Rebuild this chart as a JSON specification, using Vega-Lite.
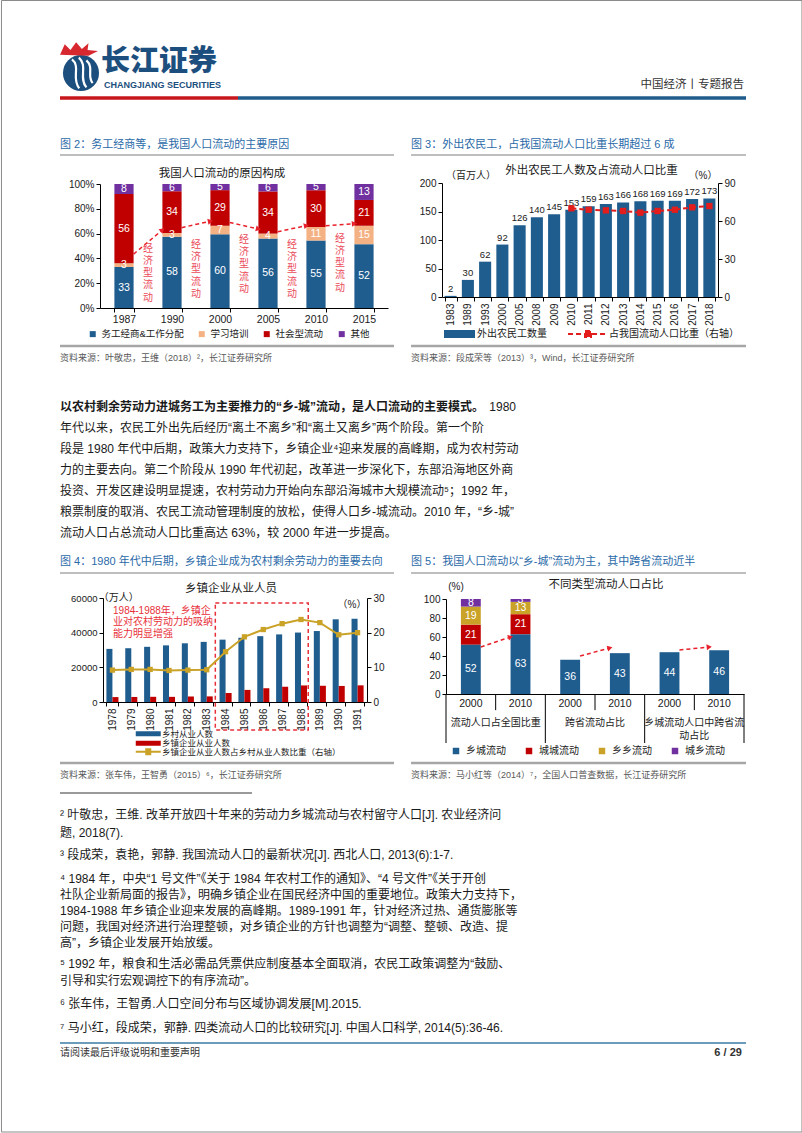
{
  "$schema": "https://vega.github.io/schema/vega-lite/v6.json",
  "background": "#ffffff",
  "padding": {"left": 0, "top": 0, "right": 0, "bottom": 0},
  "bounds": "flush",
  "spacing": 0,
  "config": {
    "font": "Liberation Sans, Noto Sans CJK SC, sans-serif",
    "view": {"stroke": null},
    "axis": {"grid": false, "domainColor": "#000000", "tickColor": "#000000", "labelColor": "#1a1a1a", "labelFontSize": 10, "tickSize": 4, "domainWidth": 1, "tickWidth": 1},
    "legend": {"labelFontSize": 10, "labelColor": "#1a1a1a", "padding": 0, "labelLimit": 400}
  },
  "resolve": {"scale": {"color": "independent", "fill": "independent", "stroke": "independent", "angle": "independent"}, "legend": {"color": "independent", "fill": "independent", "stroke": "independent"}},
  "datasets": {
    "f4bars": [
      {"year": "1978", "s": "乡村从业人数", "v": 30638}, {"year": "1978", "s": "乡镇企业从业人数", "v": 2827},
      {"year": "1979", "s": "乡村从业人数", "v": 31025}, {"year": "1979", "s": "乡镇企业从业人数", "v": 2909},
      {"year": "1980", "s": "乡村从业人数", "v": 31836}, {"year": "1980", "s": "乡镇企业从业人数", "v": 3000},
      {"year": "1981", "s": "乡村从业人数", "v": 32672}, {"year": "1981", "s": "乡镇企业从业人数", "v": 2970},
      {"year": "1982", "s": "乡村从业人数", "v": 33867}, {"year": "1982", "s": "乡镇企业从业人数", "v": 3113},
      {"year": "1983", "s": "乡村从业人数", "v": 34690}, {"year": "1983", "s": "乡镇企业从业人数", "v": 3235},
      {"year": "1984", "s": "乡村从业人数", "v": 35968}, {"year": "1984", "s": "乡镇企业从业人数", "v": 5208},
      {"year": "1985", "s": "乡村从业人数", "v": 37065}, {"year": "1985", "s": "乡镇企业从业人数", "v": 6979},
      {"year": "1986", "s": "乡村从业人数", "v": 37990}, {"year": "1986", "s": "乡镇企业从业人数", "v": 7937},
      {"year": "1987", "s": "乡村从业人数", "v": 39000}, {"year": "1987", "s": "乡镇企业从业人数", "v": 8805},
      {"year": "1988", "s": "乡村从业人数", "v": 40067}, {"year": "1988", "s": "乡镇企业从业人数", "v": 9546},
      {"year": "1989", "s": "乡村从业人数", "v": 40939}, {"year": "1989", "s": "乡镇企业从业人数", "v": 9367},
      {"year": "1990", "s": "乡村从业人数", "v": 47708}, {"year": "1990", "s": "乡镇企业从业人数", "v": 9265},
      {"year": "1991", "s": "乡村从业人数", "v": 48026}, {"year": "1991", "s": "乡镇企业从业人数", "v": 9609}
    ],
    "f4ratio": [
      {"year": "1978", "r": 9.2}, {"year": "1979", "r": 9.4}, {"year": "1980", "r": 9.4}, {"year": "1981", "r": 9.1},
      {"year": "1982", "r": 9.2}, {"year": "1983", "r": 9.3}, {"year": "1984", "r": 14.5}, {"year": "1985", "r": 18.8},
      {"year": "1986", "r": 20.9}, {"year": "1987", "r": 22.6}, {"year": "1988", "r": 23.8}, {"year": "1989", "r": 22.9},
      {"year": "1990", "r": 19.4}, {"year": "1991", "r": 20.0}
    ]
  },
  "vconcat": [
    {
      "width": 686, "height": 60,
      "data": {"values": [{}]},
      "layer": [
        {"mark": {"type": "rect", "fillOpacity": 0, "stroke": "#8a8a8a", "strokeWidth": 1},
         "encoding": {"x": {"datum": -8.53, "type": "quantitative", "scale": {"domain": [0, 100]}, "axis": null}, "x2": {"datum": 108.16}, "y": {"datum": -65.83, "type": "quantitative", "scale": {"domain": [0, 100], "reverse": true}, "axis": null}, "y2": {"datum": 1820}}},
        {"mark": {"type": "point", "shape": "circle", "filled": true, "color": "#1c4f7e", "size": 1300, "opacity": 1},
         "encoding": {"x": {"datum": 3.06, "type": "quantitative", "scale": {"domain": [0, 100]}, "axis": null}, "y": {"datum": 55, "type": "quantitative", "scale": {"domain": [0, 100], "reverse": true}, "axis": null}}},
        {"mark": {"type": "point", "shape": "M-0.5,-0.75C0,-0.35 -0.55,0.25 -0.1,0.85M-0.12,-0.85C0.4,-0.4 -0.15,0.25 0.3,0.8M0.3,-0.7C0.75,-0.3 0.3,0.2 0.65,0.55", "filled": false, "color": "#ffffff", "strokeWidth": 2.2, "size": 1300, "opacity": 1},
         "encoding": {"x": {"datum": 3.06, "type": "quantitative", "scale": {"domain": [0, 100]}, "axis": null}, "y": {"datum": 55, "type": "quantitative", "scale": {"domain": [0, 100], "reverse": true}, "axis": null}}},
        {"mark": {"type": "point", "shape": "M-1,0.3L-0.75,-0.25L-0.45,0.05L-0.15,-0.35L0.15,0L0.5,-0.3L0.45,0.05L1,0.1L0.5,0.35Z", "filled": true, "color": "#d7282f", "size": 1444, "opacity": 1},
         "encoding": {"x": {"datum": 2.77, "type": "quantitative", "scale": {"domain": [0, 100]}, "axis": null}, "y": {"datum": 15, "type": "quantitative", "scale": {"domain": [0, 100], "reverse": true}, "axis": null}}},
        {"mark": {"type": "text", "text": "长江证券", "align": "left", "baseline": "middle", "fontSize": 29, "fontWeight": 900, "font": "Noto Sans CJK SC", "color": "#1c4f7e"},
         "encoding": {"x": {"datum": 5.98, "type": "quantitative", "scale": {"domain": [0, 100]}, "axis": null}, "y": {"datum": 37, "type": "quantitative", "scale": {"domain": [0, 100], "reverse": true}, "axis": null}}},
        {"mark": {"type": "text", "text": "CHANGJIANG SECURITIES", "align": "left", "baseline": "middle", "fontSize": 9, "fontWeight": "bold", "color": "#1c4f7e"},
         "encoding": {"x": {"datum": 6.41, "type": "quantitative", "scale": {"domain": [0, 100]}, "axis": null}, "y": {"datum": 74.5, "type": "quantitative", "scale": {"domain": [0, 100], "reverse": true}, "axis": null}}},
        {"mark": {"type": "text", "text": "中国经济丨专题报告", "align": "right", "baseline": "middle", "fontSize": 11.5, "color": "#333333"},
         "encoding": {"x": {"datum": 99.7, "type": "quantitative", "scale": {"domain": [0, 100]}, "axis": null}, "y": {"datum": 75, "type": "quantitative", "scale": {"domain": [0, 100], "reverse": true}, "axis": null}}},
        {"mark": {"type": "rule", "color": "#c8161d", "strokeWidth": 3.3},
         "encoding": {"x": {"datum": 0, "type": "quantitative", "scale": {"domain": [0, 100]}, "axis": null}, "x2": {"datum": 25.95}, "y": {"datum": 96.7, "type": "quantitative", "scale": {"domain": [0, 100], "reverse": true}, "axis": null}}},
        {"mark": {"type": "rule", "color": "#1f5c8c", "strokeWidth": 3.3},
         "encoding": {"x": {"datum": 25.95, "type": "quantitative", "scale": {"domain": [0, 100]}, "axis": null}, "x2": {"datum": 100}, "y": {"datum": 96.7, "type": "quantitative", "scale": {"domain": [0, 100], "reverse": true}, "axis": null}}}
      ]
    },
    {
      "width": 686, "height": 270,
      "resolve": {"scale": {"x": "independent", "y": "independent"}, "axis": {"x": "independent", "y": "independent"}},
      "layer": [
        {"data": {"values": [{}]}, "layer": [
          {"mark": {"type": "text", "text": "图 2：务工经商等，是我国人口流动的主要原因", "align": "left", "baseline": "middle", "fontSize": 11, "color": "#2a6aa8"},
           "encoding": {"x": {"datum": 0, "type": "quantitative", "scale": {"domain": [0, 100]}, "axis": null}, "y": {"datum": 16.67, "type": "quantitative", "scale": {"domain": [0, 100], "reverse": true}, "axis": null}}},
          {"mark": {"type": "text", "text": "图 3：外出农民工，占我国流动人口比重长期超过 6 成", "align": "left", "baseline": "middle", "fontSize": 11, "color": "#2a6aa8"},
           "encoding": {"x": {"datum": 51.17, "type": "quantitative", "scale": {"domain": [0, 100]}, "axis": null}, "y": {"datum": 16.67, "type": "quantitative", "scale": {"domain": [0, 100], "reverse": true}, "axis": null}}},
          {"mark": {"type": "rule", "color": "#7f7f7f", "strokeWidth": 1.2},
           "encoding": {"x": {"datum": 0, "type": "quantitative", "scale": {"domain": [0, 100]}, "axis": null}, "x2": {"datum": 48.69}, "y": {"datum": 20.37, "type": "quantitative", "scale": {"domain": [0, 100], "reverse": true}, "axis": null}}},
          {"mark": {"type": "rule", "color": "#7f7f7f", "strokeWidth": 1.2},
           "encoding": {"x": {"datum": 51.17, "type": "quantitative", "scale": {"domain": [0, 100]}, "axis": null}, "x2": {"datum": 100}, "y": {"datum": 20.37, "type": "quantitative", "scale": {"domain": [0, 100], "reverse": true}, "axis": null}}},
          {"mark": {"type": "text", "text": "我国人口流动的原因构成", "align": "center", "baseline": "middle", "fontSize": 11.5, "color": "#1a1a1a"},
           "encoding": {"x": {"datum": 23.62, "type": "quantitative", "scale": {"domain": [0, 100]}, "axis": null}, "y": {"datum": 27.4, "type": "quantitative", "scale": {"domain": [0, 100], "reverse": true}, "axis": null}}},
          {"mark": {"type": "text", "text": "外出农民工人数及占流动人口比重", "align": "center", "baseline": "middle", "fontSize": 11.5, "color": "#1a1a1a"},
           "encoding": {"x": {"datum": 77.48, "type": "quantitative", "scale": {"domain": [0, 100]}, "axis": null}, "y": {"datum": 26.3, "type": "quantitative", "scale": {"domain": [0, 100], "reverse": true}, "axis": null}}},
          {"mark": {"type": "text", "text": "（百万人）", "align": "center", "baseline": "middle", "fontSize": 10, "color": "#1a1a1a"},
           "encoding": {"x": {"datum": 59.91, "type": "quantitative", "scale": {"domain": [0, 100]}, "axis": null}, "y": {"datum": 28.1, "type": "quantitative", "scale": {"domain": [0, 100], "reverse": true}, "axis": null}}},
          {"mark": {"type": "text", "text": "（%）", "align": "center", "baseline": "middle", "fontSize": 10, "color": "#1a1a1a"},
           "encoding": {"x": {"datum": 93.73, "type": "quantitative", "scale": {"domain": [0, 100]}, "axis": null}, "y": {"datum": 28.1, "type": "quantitative", "scale": {"domain": [0, 100], "reverse": true}, "axis": null}}},
          {"mark": {"type": "rule", "color": "#a6a6a6", "strokeWidth": 2.5},
           "encoding": {"x": {"datum": 0, "type": "quantitative", "scale": {"domain": [0, 100]}, "axis": null}, "x2": {"datum": 48.69}, "y": {"datum": 91.1, "type": "quantitative", "scale": {"domain": [0, 100], "reverse": true}, "axis": null}}},
          {"mark": {"type": "rule", "color": "#a6a6a6", "strokeWidth": 2.5},
           "encoding": {"x": {"datum": 51.17, "type": "quantitative", "scale": {"domain": [0, 100]}, "axis": null}, "x2": {"datum": 100}, "y": {"datum": 91.1, "type": "quantitative", "scale": {"domain": [0, 100], "reverse": true}, "axis": null}}},
          {"mark": {"type": "text", "text": "资料来源：叶敬忠，王维（2018）²，长江证券研究所", "align": "left", "baseline": "middle", "fontSize": 9, "color": "#595959"},
           "encoding": {"x": {"datum": 0, "type": "quantitative", "scale": {"domain": [0, 100]}, "axis": null}, "y": {"datum": 95.56, "type": "quantitative", "scale": {"domain": [0, 100], "reverse": true}, "axis": null}}},
          {"mark": {"type": "text", "text": "资料来源：段成荣等（2013）³，Wind，长江证券研究所", "align": "left", "baseline": "middle", "fontSize": 9, "color": "#595959"},
           "encoding": {"x": {"datum": 51.17, "type": "quantitative", "scale": {"domain": [0, 100]}, "axis": null}, "y": {"datum": 95.56, "type": "quantitative", "scale": {"domain": [0, 100], "reverse": true}, "axis": null}}}
        ]},
        {"data": {"values": [
          {"year": "1987", "cause": "务工经商&工作分配", "i": 1, "v": 33}, {"year": "1987", "cause": "学习培训", "i": 2, "v": 3}, {"year": "1987", "cause": "社会型流动", "i": 3, "v": 56}, {"year": "1987", "cause": "其他", "i": 4, "v": 8},
          {"year": "1990", "cause": "务工经商&工作分配", "i": 1, "v": 58}, {"year": "1990", "cause": "学习培训", "i": 2, "v": 3}, {"year": "1990", "cause": "社会型流动", "i": 3, "v": 34}, {"year": "1990", "cause": "其他", "i": 4, "v": 6},
          {"year": "2000", "cause": "务工经商&工作分配", "i": 1, "v": 60}, {"year": "2000", "cause": "学习培训", "i": 2, "v": 7}, {"year": "2000", "cause": "社会型流动", "i": 3, "v": 29}, {"year": "2000", "cause": "其他", "i": 4, "v": 5},
          {"year": "2005", "cause": "务工经商&工作分配", "i": 1, "v": 56}, {"year": "2005", "cause": "学习培训", "i": 2, "v": 4}, {"year": "2005", "cause": "社会型流动", "i": 3, "v": 34}, {"year": "2005", "cause": "其他", "i": 4, "v": 6},
          {"year": "2010", "cause": "务工经商&工作分配", "i": 1, "v": 55}, {"year": "2010", "cause": "学习培训", "i": 2, "v": 11}, {"year": "2010", "cause": "社会型流动", "i": 3, "v": 30}, {"year": "2010", "cause": "其他", "i": 4, "v": 5},
          {"year": "2015", "cause": "务工经商&工作分配", "i": 1, "v": 52}, {"year": "2015", "cause": "学习培训", "i": 2, "v": 15}, {"year": "2015", "cause": "社会型流动", "i": 3, "v": 21}, {"year": "2015", "cause": "其他", "i": 4, "v": 13}
        ]},
         "layer": [
          {"mark": {"type": "bar"},
           "encoding": {
             "x": {"field": "year", "type": "nominal", "scale": {"range": [40, 328], "paddingInner": 0.6, "paddingOuter": 0.3}, "axis": {"title": null, "orient": "bottom", "offset": -62, "tickBand": "extent", "labelAngle": 0, "labelFontSize": 10.5, "labelPadding": 2}},
             "y": {"field": "v", "type": "quantitative", "stack": "normalize", "scale": {"domain": [0, 1], "range": [208, 84]}, "axis": {"title": null, "orient": "left", "offset": -40, "values": [0, 0.2, 0.4, 0.6, 0.8, 1], "format": ".0%", "labelPadding": 2}},
             "color": {"field": "cause", "type": "nominal", "scale": {"domain": ["务工经商&工作分配", "学习培训", "社会型流动", "其他"], "range": ["#1f5d8f", "#f4b183", "#c00000", "#7030a0"]}, "legend": {"title": null, "orient": "none", "legendX": 28, "legendY": 229, "direction": "horizontal", "symbolType": "square", "symbolSize": 36, "labelFontSize": 9.5, "labelOffset": 4, "columnPadding": 13}},
             "order": {"field": "i", "type": "quantitative"}
           }},
          {"mark": {"type": "text", "color": "#ffffff", "fontSize": 10.5, "baseline": "middle"},
           "encoding": {
             "x": {"field": "year", "type": "nominal"},
             "y": {"field": "v", "type": "quantitative", "stack": "normalize", "bandPosition": 0.5},
             "detail": {"field": "cause"},
             "order": {"field": "i", "type": "quantitative"},
             "text": {"field": "v", "type": "quantitative"}
           }},
          {"data": {"values": [
            {"from": "1987", "to": "1990", "y1": 0.435, "y2": 0.63},
            {"from": "1990", "to": "2000", "y1": 0.648, "y2": 0.70},
            {"from": "2000", "to": "2005", "y1": 0.69, "y2": 0.637},
            {"from": "2005", "to": "2010", "y1": 0.615, "y2": 0.664},
            {"from": "2010", "to": "2015", "y1": 0.664, "y2": 0.68}
          ]},
           "layer": [
            {"mark": {"type": "rule", "color": "#e8202a", "strokeWidth": 1.5, "strokeDash": [4, 3]},
             "encoding": {"x": {"field": "from", "type": "nominal", "bandPosition": 1}, "x2": {"field": "to", "bandPosition": 0}, "y": {"field": "y1", "type": "quantitative"}, "y2": {"field": "y2"}}},
            {"mark": {"type": "point", "shape": "triangle-right", "filled": true, "color": "#e8202a", "size": 35, "opacity": 1},
             "encoding": {"x": {"field": "to", "type": "nominal", "bandPosition": 0}, "y": {"field": "y2", "type": "quantitative"},
               "angle": {"field": "from", "type": "nominal", "scale": {"type": "ordinal", "domain": ["1987", "1990", "2000", "2005", "2010"], "range": [-40, -12, 13, -12, -4]}, "legend": null}}}
          ]},
          {"data": {"values": [
            {"from": "1987", "top": 0.52}, {"from": "1990", "top": 0.55}, {"from": "2000", "top": 0.59}, {"from": "2005", "top": 0.55}, {"from": "2010", "top": 0.60}
          ]},
           "mark": {"type": "text", "text": "经\n济\n型\n流\n动", "lineBreak": "\n", "lineHeight": 12.3, "fontSize": 10, "color": "#eb4a5a", "baseline": "top", "align": "center"},
           "encoding": {"x": {"field": "from", "type": "nominal", "bandPosition": 1.75}, "y": {"field": "top", "type": "quantitative"}}}
        ]},
        {"data": {"values": [
          {"year": "1983", "n": 2}, {"year": "1989", "n": 30}, {"year": "1993", "n": 62}, {"year": "2000", "n": 92},
          {"year": "2005", "n": 126}, {"year": "2008", "n": 140}, {"year": "2009", "n": 145}, {"year": "2010", "n": 153, "p": 70.0},
          {"year": "2011", "n": 159, "p": 68.9}, {"year": "2012", "n": 163, "p": 68.4}, {"year": "2013", "n": 166, "p": 67.9},
          {"year": "2014", "n": 168, "p": 66.6}, {"year": "2015", "n": 169, "p": 67.9}, {"year": "2016", "n": 169, "p": 68.9},
          {"year": "2017", "n": 172, "p": 70.8}, {"year": "2018", "n": 173, "p": 71.8}
        ]},
         "resolve": {"scale": {"y": "independent"}, "axis": {"y": "independent"}},
         "layer": [
          {"layer": [
            {"mark": {"type": "bar"},
             "encoding": {
               "x": {"field": "year", "type": "nominal", "scale": {"range": [382, 658], "paddingInner": 0.3, "paddingOuter": 0.15}, "axis": {"title": null, "orient": "bottom", "offset": -73, "tickBand": "extent", "labelAngle": -90, "labelAlign": "right", "labelBaseline": "middle", "labelPadding": 2, "labelFontSize": 10}},
               "y": {"field": "n", "type": "quantitative", "scale": {"domain": [0, 200], "range": [197, 83]}, "axis": {"title": null, "orient": "left", "offset": -382, "values": [0, 50, 100, 150, 200], "labelPadding": 2}},
               "fill": {"datum": "外出农民工数量", "type": "nominal", "scale": {"domain": ["外出农民工数量"], "range": ["#1f5d8f"]}, "legend": {"title": null, "orient": "none", "legendX": 379, "legendY": 229, "symbolType": "M0,-1H7.75V1H0Z", "symbolSize": 64, "labelOffset": 28, "labelFontSize": 10}}
             }},
            {"mark": {"type": "text", "dy": -7, "fontSize": 9.5, "color": "#1a1a1a"},
             "encoding": {"x": {"field": "year", "type": "nominal"}, "y": {"field": "n", "type": "quantitative"}, "text": {"field": "n", "type": "quantitative"}}}
          ]},
          {"layer": [
            {"mark": {"type": "line", "strokeWidth": 2, "strokeDash": [5, 3]},
             "encoding": {
               "x": {"field": "year", "type": "nominal"},
               "y": {"field": "p", "type": "quantitative", "scale": {"domain": [0, 90], "range": [197, 83]}, "axis": {"title": null, "orient": "right", "offset": -28, "values": [0, 30, 60, 90], "labelPadding": 2}},
               "stroke": {"datum": "占我国流动人口比重（右轴）", "type": "nominal", "scale": {"domain": ["占我国流动人口比重（右轴）"], "range": ["#e31c1c"]}, "legend": {"title": null, "orient": "none", "legendX": 503, "legendY": 229, "symbolType": "M0,0H10M4.25,-0.75H5.75V0.75H4.25Z", "symbolSize": 64, "symbolStrokeWidth": 2, "symbolDash": [5, 3], "symbolFillColor": "#e31c1c", "labelOffset": 36, "labelFontSize": 10}}
             }},
            {"mark": {"type": "point", "shape": "square", "filled": true, "color": "#e31c1c", "size": 40, "opacity": 1},
             "encoding": {"x": {"field": "year", "type": "nominal"}, "y": {"field": "p", "type": "quantitative"}}}
          ]}
        ]}
      ]
    },
    {
      "width": 456, "height": 175,
      "layer": [
        {"data": {"values": [{"n": 1, "t": "以农村剩余劳动力进城务工为主要推力的“乡-城”流动，是人口流动的主要模式。"}]},
         "mark": {"type": "text", "align": "left", "baseline": "middle", "fontSize": 12, "fontWeight": "bold", "color": "#1a1a1a"},
         "encoding": {"x": {"datum": 0, "type": "quantitative", "scale": {"domain": [0, 1]}, "axis": null}, "y": {"field": "n", "type": "quantitative", "scale": {"domain": [1, 7], "range": [37, 163]}, "axis": null}, "text": {"field": "t"}}},
        {"data": {"values": [{"n": 1, "t": "1980"}]},
         "mark": {"type": "text", "align": "right", "baseline": "middle", "fontSize": 12, "color": "#1a1a1a"},
         "encoding": {"x": {"datum": 1, "type": "quantitative", "scale": {"domain": [0, 1]}, "axis": null}, "y": {"field": "n", "type": "quantitative", "scale": {"domain": [1, 7], "range": [37, 163]}, "axis": null}, "text": {"field": "t"}}},
        {"data": {"values": [
          {"n": 2, "t": "年代以来，农民工外出先后经历“离土不离乡”和“离土又离乡”两个阶段。第一个阶"},
          {"n": 3, "t": "段是 1980 年代中后期，政策大力支持下，乡镇企业⁴迎来发展的高峰期，成为农村劳动"},
          {"n": 4, "t": "力的主要去向。第二个阶段从 1990 年代初起，改革进一步深化下，东部沿海地区外商"},
          {"n": 5, "t": "投资、开发区建设明显提速，农村劳动力开始向东部沿海城市大规模流动⁵；1992 年，"},
          {"n": 6, "t": "粮票制度的取消、农民工流动管理制度的放松，使得人口乡-城流动。2010 年，“乡-城”"},
          {"n": 7, "t": "流动人口占总流动人口比重高达 63%，较 2000 年进一步提高。"}
        ]},
         "mark": {"type": "text", "align": "left", "baseline": "middle", "fontSize": 12, "color": "#1a1a1a"},
         "encoding": {"x": {"datum": 0, "type": "quantitative", "scale": {"domain": [0, 1]}, "axis": null}, "y": {"field": "n", "type": "quantitative", "scale": {"domain": [1, 7], "range": [37, 163]}, "axis": null}, "text": {"field": "t"}}}
      ]
    },
    {
      "width": 686, "height": 240,
      "resolve": {"scale": {"x": "independent", "y": "independent"}, "axis": {"x": "independent", "y": "independent"}},
      "layer": [
        {"data": {"values": [{}]}, "layer": [
          {"mark": {"type": "text", "text": "图 4：1980 年代中后期，乡镇企业成为农村剩余劳动力的重要去向", "align": "left", "baseline": "middle", "fontSize": 11, "color": "#2a6aa8"},
           "encoding": {"x": {"datum": 0, "type": "quantitative", "scale": {"domain": [0, 100]}, "axis": null}, "y": {"datum": 7.08, "type": "quantitative", "scale": {"domain": [0, 100], "reverse": true}, "axis": null}}},
          {"mark": {"type": "text", "text": "图 5：我国人口流动以“乡-城”流动为主，其中跨省流动近半", "align": "left", "baseline": "middle", "fontSize": 11, "color": "#2a6aa8"},
           "encoding": {"x": {"datum": 51.17, "type": "quantitative", "scale": {"domain": [0, 100]}, "axis": null}, "y": {"datum": 7.08, "type": "quantitative", "scale": {"domain": [0, 100], "reverse": true}, "axis": null}}},
          {"mark": {"type": "rule", "color": "#7f7f7f", "strokeWidth": 1.2},
           "encoding": {"x": {"datum": 0, "type": "quantitative", "scale": {"domain": [0, 100]}, "axis": null}, "x2": {"datum": 48.69}, "y": {"datum": 11.67, "type": "quantitative", "scale": {"domain": [0, 100], "reverse": true}, "axis": null}}},
          {"mark": {"type": "rule", "color": "#7f7f7f", "strokeWidth": 1.2},
           "encoding": {"x": {"datum": 51.17, "type": "quantitative", "scale": {"domain": [0, 100]}, "axis": null}, "x2": {"datum": 100}, "y": {"datum": 11.67, "type": "quantitative", "scale": {"domain": [0, 100], "reverse": true}, "axis": null}}},
          {"mark": {"type": "text", "text": "乡镇企业从业人员", "align": "center", "baseline": "middle", "fontSize": 11.5, "color": "#1a1a1a"},
           "encoding": {"x": {"datum": 24.93, "type": "quantitative", "scale": {"domain": [0, 100]}, "axis": null}, "y": {"datum": 18.33, "type": "quantitative", "scale": {"domain": [0, 100], "reverse": true}, "axis": null}}},
          {"mark": {"type": "text", "text": "不同类型流动人口占比", "align": "center", "baseline": "middle", "fontSize": 11.5, "color": "#1a1a1a"},
           "encoding": {"x": {"datum": 79.59, "type": "quantitative", "scale": {"domain": [0, 100]}, "axis": null}, "y": {"datum": 16.67, "type": "quantitative", "scale": {"domain": [0, 100], "reverse": true}, "axis": null}}},
          {"mark": {"type": "text", "text": "（万人）", "align": "center", "baseline": "middle", "fontSize": 10, "color": "#1a1a1a"},
           "encoding": {"x": {"datum": 8.57, "type": "quantitative", "scale": {"domain": [0, 100]}, "axis": null}, "y": {"datum": 22.08, "type": "quantitative", "scale": {"domain": [0, 100], "reverse": true}, "axis": null}}},
          {"mark": {"type": "text", "text": "（%）", "align": "center", "baseline": "middle", "fontSize": 10, "color": "#1a1a1a"},
           "encoding": {"x": {"datum": 42.57, "type": "quantitative", "scale": {"domain": [0, 100]}, "axis": null}, "y": {"datum": 25, "type": "quantitative", "scale": {"domain": [0, 100], "reverse": true}, "axis": null}}},
          {"mark": {"type": "text", "text": "(%)", "align": "center", "baseline": "middle", "fontSize": 10, "color": "#1a1a1a"},
           "encoding": {"x": {"datum": 57.73, "type": "quantitative", "scale": {"domain": [0, 100]}, "axis": null}, "y": {"datum": 17.5, "type": "quantitative", "scale": {"domain": [0, 100], "reverse": true}, "axis": null}}},
          {"mark": {"type": "rule", "color": "#a6a6a6", "strokeWidth": 2.5},
           "encoding": {"x": {"datum": 0, "type": "quantitative", "scale": {"domain": [0, 100]}, "axis": null}, "x2": {"datum": 48.69}, "y": {"datum": 90.83, "type": "quantitative", "scale": {"domain": [0, 100], "reverse": true}, "axis": null}}},
          {"mark": {"type": "rule", "color": "#a6a6a6", "strokeWidth": 2.5},
           "encoding": {"x": {"datum": 51.17, "type": "quantitative", "scale": {"domain": [0, 100]}, "axis": null}, "x2": {"datum": 100}, "y": {"datum": 90.83, "type": "quantitative", "scale": {"domain": [0, 100], "reverse": true}, "axis": null}}},
          {"mark": {"type": "text", "text": "资料来源：张车伟，王智勇（2015）⁶，长江证券研究所", "align": "left", "baseline": "middle", "fontSize": 9, "color": "#595959"},
           "encoding": {"x": {"datum": 0, "type": "quantitative", "scale": {"domain": [0, 100]}, "axis": null}, "y": {"datum": 95.83, "type": "quantitative", "scale": {"domain": [0, 100], "reverse": true}, "axis": null}}},
          {"mark": {"type": "text", "text": "资料来源：马小红等（2014）⁷，全国人口普查数据，长江证券研究所", "align": "left", "baseline": "middle", "fontSize": 9, "color": "#595959"},
           "encoding": {"x": {"datum": 51.17, "type": "quantitative", "scale": {"domain": [0, 100]}, "axis": null}, "y": {"datum": 95.83, "type": "quantitative", "scale": {"domain": [0, 100], "reverse": true}, "axis": null}}}
        ]},
        {"resolve": {"scale": {"y": "independent"}, "axis": {"y": "independent"}},
         "layer": [
          {"layer": [
            {"data": {"name": "f4bars"},
             "mark": {"type": "bar"},
             "encoding": {
               "x": {"field": "year", "type": "nominal", "scale": {"range": [43, 307], "paddingInner": 0.36, "paddingOuter": 0.18}, "axis": {"title": null, "orient": "bottom", "offset": -83, "tickBand": "extent", "labelAngle": -90, "labelAlign": "right", "labelBaseline": "middle", "labelPadding": 2, "labelFontSize": 10}},
               "xOffset": {"field": "s", "type": "nominal", "scale": {"domain": ["乡村从业人数", "乡镇企业从业人数"], "paddingInner": 0, "paddingOuter": 0}},
               "y": {"field": "v", "type": "quantitative", "scale": {"domain": [0, 60000], "range": [157, 53]}, "axis": {"title": null, "orient": "left", "offset": -43, "values": [0, 20000, 40000, 60000], "format": "d", "labelPadding": 2, "labelFontSize": 9.5}},
               "fill": {"field": "s", "type": "nominal", "scale": {"domain": ["乡村从业人数", "乡镇企业从业人数"], "range": ["#1f5d8f", "#c00000"]}, "legend": {"title": null, "orient": "none", "legendX": 71.5, "legendY": 184.5, "symbolType": "M0,-1H10V1H0Z", "symbolSize": 25, "labelOffset": 22, "labelFontSize": 8.5, "rowPadding": 0.5}}
             }},
            {"data": {"values": [{}]},
             "mark": {"type": "rect", "fillOpacity": 0, "stroke": "#e8303a", "strokeWidth": 1.5, "strokeDash": [4, 3]},
             "encoding": {"x": {"datum": "1984", "type": "nominal", "bandPosition": -0.35}, "x2": {"datum": "1988", "bandPosition": 1.1}, "y": {"datum": 57100, "type": "quantitative"}, "y2": {"datum": -16150}}},
            {"data": {"values": [{}]},
             "mark": {"type": "text", "text": "1984-1988年，乡镇企\n业对农村劳动力的吸纳\n能力明显增强", "lineBreak": "\n", "lineHeight": 11.3, "fontSize": 10, "color": "#e8303a", "align": "left", "baseline": "top"},
             "encoding": {"x": {"datum": "1978", "type": "nominal", "bandPosition": 0.55}, "y": {"datum": 55400, "type": "quantitative"}}}
          ]},
          {"data": {"name": "f4ratio"},
           "layer": [
            {"mark": {"type": "line", "strokeWidth": 2},
             "encoding": {
               "x": {"field": "year", "type": "nominal"},
               "y": {"field": "r", "type": "quantitative", "scale": {"domain": [0, 30], "range": [157, 53]}, "axis": {"title": null, "orient": "right", "offset": -379, "values": [0, 10, 20, 30], "labelPadding": 2}},
               "stroke": {"datum": "乡镇企业从业人数占乡村从业人数比重（右轴）", "type": "nominal", "scale": {"domain": ["乡镇企业从业人数占乡村从业人数比重（右轴）"], "range": ["#c9a227"]}, "legend": {"title": null, "orient": "none", "legendX": 71.5, "legendY": 202.5, "symbolType": "M0,0H10M4.2,-1H5.8V1H4.2Z", "symbolSize": 25, "symbolStrokeWidth": 2, "symbolFillColor": "#c9a227", "labelOffset": 22, "labelFontSize": 8.5}}
             }},
            {"mark": {"type": "point", "shape": "square", "filled": true, "color": "#c9a227", "size": 28, "opacity": 1},
             "encoding": {"x": {"field": "year", "type": "nominal"}, "y": {"field": "r", "type": "quantitative"}}}
          ]}
        ]},
        {"data": {"values": [
          {"key": "A2000", "t": "乡城流动", "i": 1, "v": 52}, {"key": "A2000", "t": "城城流动", "i": 2, "v": 21}, {"key": "A2000", "t": "乡乡流动", "i": 3, "v": 19}, {"key": "A2000", "t": "城乡流动", "i": 4, "v": 8},
          {"key": "A2010", "t": "乡城流动", "i": 1, "v": 63}, {"key": "A2010", "t": "城城流动", "i": 2, "v": 21}, {"key": "A2010", "t": "乡乡流动", "i": 3, "v": 13}, {"key": "A2010", "t": "城乡流动", "i": 4, "v": 3},
          {"key": "B2000", "t": "乡城流动", "i": 1, "v": 36}, {"key": "B2010", "t": "乡城流动", "i": 1, "v": 43},
          {"key": "C2000", "t": "乡城流动", "i": 1, "v": 44}, {"key": "C2010", "t": "乡城流动", "i": 1, "v": 46}
        ]},
         "layer": [
          {"mark": {"type": "bar"},
           "encoding": {
             "x": {"field": "key", "type": "nominal", "scale": {"range": [386, 684], "paddingInner": 0.6, "paddingOuter": 0.3}, "axis": {"title": null, "orient": "bottom", "offset": -91, "ticks": false, "labelExpr": "slice(datum.label, -4)", "labelAngle": 0, "labelFontSize": 10.5, "labelPadding": 4}},
             "y": {"field": "v", "type": "quantitative", "stack": "zero", "scale": {"domain": [0, 100], "range": [149, 54]}, "axis": {"title": null, "orient": "left", "offset": -386, "values": [0, 20, 40, 60, 80, 100], "labelPadding": 2}},
             "color": {"field": "t", "type": "nominal", "scale": {"domain": ["乡城流动", "城城流动", "乡乡流动", "城乡流动"], "range": ["#1f5d8f", "#c00000", "#c9a227", "#7030a0"]}, "legend": {"title": null, "orient": "none", "legendX": 391, "legendY": 201, "direction": "horizontal", "symbolType": "square", "symbolSize": 42, "labelOffset": 5, "columnPadding": 18, "labelFontSize": 10}},
             "order": {"field": "i", "type": "quantitative"}
           }},
          {"mark": {"type": "text", "color": "#ffffff", "fontSize": 10.5, "baseline": "middle"},
           "encoding": {
             "x": {"field": "key", "type": "nominal"},
             "y": {"field": "v", "type": "quantitative", "stack": "zero", "bandPosition": 0.5},
             "detail": {"field": "t"},
             "order": {"field": "i", "type": "quantitative"},
             "text": {"field": "v", "type": "quantitative"}
           }},
          {"data": {"values": [{"k": "A2000", "g": "流动人口占全国比重"}, {"k": "B2000", "g": "跨省流动占比"}, {"k": "C2000", "g": "乡城流动人口中跨省流\n动占比"}]},
           "mark": {"type": "text", "baseline": "top", "align": "center", "fontSize": 10, "lineBreak": "\n", "lineHeight": 13, "color": "#1a1a1a"},
           "encoding": {"x": {"field": "k", "type": "nominal", "bandPosition": 1.75}, "y": {"datum": -25.3, "type": "quantitative"}, "text": {"field": "g"}}},
          {"data": {"values": [{"k": "A2000"}, {"k": "B2000"}, {"k": "C2000"}]},
           "mark": {"type": "rule", "color": "#000000", "strokeWidth": 1},
           "encoding": {"x": {"field": "k", "type": "nominal", "bandPosition": 1.75}, "y": {"datum": 0, "type": "quantitative"}, "y2": {"datum": -17}}},
          {"data": {"values": [{"k": "A2000"}, {"k": "B2000"}, {"k": "C2000"}]},
           "mark": {"type": "rule", "color": "#000000", "strokeWidth": 1},
           "encoding": {"x": {"field": "k", "type": "nominal", "bandPosition": -0.75}, "y": {"datum": 0, "type": "quantitative"}, "y2": {"datum": -51.6}}},
          {"data": {"values": [{"k": "C2010"}]},
           "mark": {"type": "rule", "color": "#000000", "strokeWidth": 1},
           "encoding": {"x": {"field": "k", "type": "nominal", "bandPosition": 1.75}, "y": {"datum": 0, "type": "quantitative"}, "y2": {"datum": -51.6}}},
          {"data": {"values": [
            {"from": "A2000", "to": "A2010", "y1": 49.5, "y2": 60},
            {"from": "B2000", "to": "B2010", "y1": 40, "y2": 48.4},
            {"from": "C2000", "to": "C2010", "y1": 46.3, "y2": 49.5}
          ]},
           "layer": [
            {"mark": {"type": "rule", "color": "#e8202a", "strokeWidth": 1.5, "strokeDash": [4, 3]},
             "encoding": {"x": {"field": "from", "type": "nominal", "bandPosition": 1}, "x2": {"field": "to", "bandPosition": 0}, "y": {"field": "y1", "type": "quantitative"}, "y2": {"field": "y2"}}},
            {"mark": {"type": "point", "shape": "triangle-right", "filled": true, "color": "#e8202a", "size": 35, "opacity": 1},
             "encoding": {"x": {"field": "to", "type": "nominal", "bandPosition": 0}, "y": {"field": "y2", "type": "quantitative"},
               "angle": {"field": "from", "type": "nominal", "scale": {"type": "ordinal", "domain": ["A2000", "B2000", "C2000"], "range": [-18, -15, -6]}, "legend": null}}}
          ]}
        ]}
      ]
    },
    {
      "width": 456, "height": 250,
      "resolve": {"scale": {"y": "independent"}, "axis": {"y": "independent"}},
      "layer": [
        {"data": {"values": [{}]},
         "mark": {"type": "rule", "color": "#000000", "strokeWidth": 0.8},
         "encoding": {"x": {"datum": 0, "type": "quantitative", "scale": {"domain": [0, 1]}, "axis": null}, "x2": {"datum": 0.421}, "y": {"datum": 3.2, "type": "quantitative", "scale": {"domain": [0, 100], "reverse": true}, "axis": null}}},
        {"data": {"values": [
          {"n": 0, "t": "² 叶敬忠，王维. 改革开放四十年来的劳动力乡城流动与农村留守人口[J]. 农业经济问"},
          {"n": 1, "t": "题, 2018(7)."},
          {"n": 2, "t": "³ 段成荣，袁艳，郭静. 我国流动人口的最新状况[J]. 西北人口, 2013(6):1-7."},
          {"n": 3, "t": "⁴ 1984 年，中央“1 号文件”《关于 1984 年农村工作的通知》、“4 号文件”《关于开创"},
          {"n": 4, "t": "社队企业新局面的报告》，明确乡镇企业在国民经济中国的重要地位。政策大力支持下，"},
          {"n": 5, "t": "1984-1988 年乡镇企业迎来发展的高峰期。1989-1991 年，针对经济过热、通货膨胀等"},
          {"n": 6, "t": "问题，我国对经济进行治理整顿，对乡镇企业的方针也调整为“调整、整顿、改造、提"},
          {"n": 7, "t": "高”，乡镇企业发展开始放缓。"},
          {"n": 8, "t": "⁵ 1992 年，粮食和生活必需品凭票供应制度基本全面取消，农民工政策调整为“鼓励、"},
          {"n": 9, "t": "引导和实行宏观调控下的有序流动”。"},
          {"n": 10, "t": "⁶ 张车伟，王智勇.人口空间分布与区域协调发展[M].2015."},
          {"n": 11, "t": "⁷ 马小红，段成荣，郭静. 四类流动人口的比较研究[J]. 中国人口科学, 2014(5):36-46."}
        ]},
         "mark": {"type": "text", "align": "left", "baseline": "middle", "fontSize": 12, "color": "#1a1a1a"},
         "encoding": {"x": {"datum": 0, "type": "quantitative", "scale": {"domain": [0, 1]}, "axis": null},
           "y": {"field": "n", "type": "quantitative", "scale": {"domain": [0, 1, 2, 3, 4, 5, 6, 7, 8, 9, 10, 11], "range": [30, 48, 70, 94, 110, 126, 142, 158, 179, 196, 219, 243]}, "axis": null},
           "text": {"field": "t"}}}
      ]
    },
    {
      "width": 686, "height": 30,
      "data": {"values": [{}]},
      "layer": [
        {"mark": {"type": "rule", "color": "#3a7ca5", "strokeWidth": 1.5},
         "encoding": {"x": {"datum": 0, "type": "quantitative", "scale": {"domain": [0, 100]}, "axis": null}, "x2": {"datum": 100}, "y": {"datum": 26.67, "type": "quantitative", "scale": {"domain": [0, 100], "reverse": true}, "axis": null}}},
        {"mark": {"type": "text", "text": "请阅读最后评级说明和重要声明", "align": "left", "baseline": "middle", "fontSize": 10, "color": "#333333"},
         "encoding": {"x": {"datum": 0, "type": "quantitative", "scale": {"domain": [0, 100]}, "axis": null}, "y": {"datum": 60, "type": "quantitative", "scale": {"domain": [0, 100], "reverse": true}, "axis": null}}},
        {"mark": {"type": "text", "text": "6 / 29", "align": "right", "baseline": "middle", "fontSize": 11, "fontWeight": "bold", "color": "#333333"},
         "encoding": {"x": {"datum": 99.4, "type": "quantitative", "scale": {"domain": [0, 100]}, "axis": null}, "y": {"datum": 60, "type": "quantitative", "scale": {"domain": [0, 100], "reverse": true}, "axis": null}}}
      ]
    }
  ]
}
